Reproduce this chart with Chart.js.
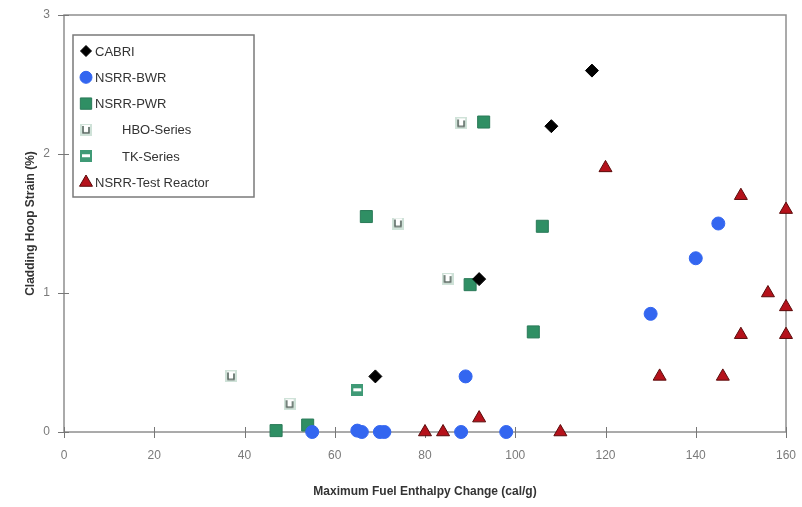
<!DOCTYPE html>
<html>
<head>
<meta charset="utf-8">
<script src="https://cdn.jsdelivr.net/npm/chart.js@4"></script>
<style>
  html, body { margin: 0; padding: 0; background: #fff; }
  #wrap { width: 802px; height: 507px; }
</style>
</head>
<body>
<div id="wrap"><canvas id="chart" width="802" height="507"></canvas></div>
<script>
// data: [enthalpy cal/g, hoop strain %]
const cabri = [[69, 0.4], [92, 1.1], [108, 2.2], [117, 2.6]];
const nsrrBwr = [[55, 0], [65, 0.01], [66, 0], [70, 0], [71, 0], [88, 0], [98, 0],
                 [89, 0.4], [130, 0.85], [140, 1.25], [145, 1.5]];
const nsrrPwr = [[47, 0.01], [54, 0.05], [67, 1.55], [90, 1.06], [93, 2.23], [106, 1.48], [104, 0.72]];
const hboSeries = [[37, 0.4], [50, 0.2], [74, 1.5], [85, 1.1], [88, 2.22]];
const tkSeries = [[65, 0.3]];
const testReactor = [[80, 0], [84, 0], [92, 0.1], [110, 0], [120, 1.9], [132, 0.4], [146, 0.4],
                     [150, 1.7], [150, 0.7], [156, 1.0], [160, 1.6], [160, 0.9], [160, 0.7]];

const xTicks = [0, 20, 40, 60, 80, 100, 120, 140, 160];
const yTicks = [0, 1, 2, 3];

const toXY = arr => arr.map(p => ({ x: p[0], y: p[1] }));

// little canvases for the two odd marker styles
function hboMarker() {
  const c = document.createElement('canvas');
  c.width = 12; c.height = 12;
  const g = c.getContext('2d');
  g.fillStyle = '#cfe2d8';
  g.fillRect(0, 0, 12, 12);
  g.fillStyle = '#ffffff';
  g.fillRect(2, 1, 8, 9);
  g.strokeStyle = '#55665e';
  g.lineWidth = 1.6;
  g.beginPath();
  g.moveTo(3, 2); g.lineTo(3, 9); g.lineTo(9, 9); g.lineTo(9, 3);
  g.stroke();
  return c;
}
function tkMarker() {
  const c = document.createElement('canvas');
  c.width = 12; c.height = 12;
  const g = c.getContext('2d');
  g.fillStyle = '#3f9a76';
  g.fillRect(0, 0, 12, 12);
  g.fillStyle = '#ffffff';
  g.fillRect(2, 4, 8, 3);
  return c;
}
const hboImg = hboMarker();
const tkImg = tkMarker();

// frame, cross ticks and the legend box
const framePlugin = {
  id: 'frame',
  beforeDatasetsDraw(chart) {
    const { ctx, chartArea: a, scales } = chart;
    ctx.save();
    ctx.strokeStyle = '#8f8f8f';
    ctx.lineWidth = 1.5;
    ctx.strokeRect(a.left, a.top, a.right - a.left, a.bottom - a.top);
    ctx.lineWidth = 1;
    ctx.strokeStyle = '#777';
    ctx.beginPath();
    yTicks.forEach(v => {
      const y = Math.round(scales.y.getPixelForValue(v)) + 0.5;
      ctx.moveTo(a.left - 6, y); ctx.lineTo(a.left + 5, y);
    });
    xTicks.forEach(v => {
      const x = Math.round(scales.x.getPixelForValue(v)) + 0.5;
      ctx.moveTo(x, a.bottom - 5); ctx.lineTo(x, a.bottom + 6);
    });
    ctx.stroke();
    ctx.restore();
  },
  afterDraw(chart) {
    const { ctx } = chart;
    const bx = 73, by = 35, bw = 181, bh = 162;
    ctx.save();
    ctx.fillStyle = '#fff';
    ctx.fillRect(bx, by, bw, bh);
    ctx.strokeStyle = '#7a7a7a';
    ctx.lineWidth = 1.5;
    ctx.strokeRect(bx, by, bw, bh);
    ctx.font = '13px "Liberation Sans", Arial, sans-serif';
    ctx.textBaseline = 'middle';
    chart.data.datasets.forEach((ds, i) => {
      const y = 51 + i * 26.3;
      const mx = 86;
      const style = ds.pointStyle;
      if (style instanceof HTMLCanvasElement) {
        ctx.drawImage(style, mx - 6, y - 6);
      } else {
        ctx.fillStyle = ds.backgroundColor;
        ctx.strokeStyle = ds.borderColor;
        ctx.lineWidth = ds.borderWidth;
        Chart.helpers.drawPoint(ctx, {
          pointStyle: style,
          radius: ds.legendRadius,
          borderWidth: ds.borderWidth
        }, mx, y);
      }
      ctx.fillStyle = '#333';
      ctx.fillText(ds.label, ds.indent ? 122 : 95, y + 1);
    });
    ctx.restore();
  }
};

new Chart(document.getElementById('chart'), {
  type: 'scatter',
  data: {
    datasets: [
      { label: 'CABRI', data: toXY(cabri), pointStyle: 'rectRot', pointRadius: 6.5, legendRadius: 5.5,
        backgroundColor: '#000', borderColor: '#000', borderWidth: 1, clip: false },
      { label: 'NSRR-BWR', data: toXY(nsrrBwr), pointStyle: 'circle', pointRadius: 6.5, legendRadius: 6,
        backgroundColor: '#3366f0', borderColor: '#3366f0', borderWidth: 1, clip: false },
      { label: 'NSRR-PWR', data: toXY(nsrrPwr), pointStyle: 'rect', pointRadius: 8.5, legendRadius: 8,
        backgroundColor: '#2f8f64', borderColor: '#2a7a58', borderWidth: 1, clip: false },
      { label: 'HBO-Series', data: toXY(hboSeries), pointStyle: hboImg, indent: true,
        backgroundColor: '#cfe2d8', borderColor: '#55665e', borderWidth: 1, clip: false },
      { label: 'TK-Series', data: toXY(tkSeries), pointStyle: tkImg, indent: true,
        backgroundColor: '#3f9a76', borderColor: '#3f9a76', borderWidth: 1, clip: false },
      { label: 'NSRR-Test Reactor', data: toXY(testReactor), pointStyle: 'triangle', pointRadius: 7.5, legendRadius: 7.5,
        backgroundColor: '#b5121b', borderColor: '#5a0a0a', borderWidth: 1, clip: false }
    ]
  },
  options: {
    responsive: false,
    animation: false,
    layout: { padding: { left: 0, right: 16, top: 15, bottom: 0 } },
    plugins: {
      legend: { display: false },
      tooltip: { enabled: false }
    },
    scales: {
      x: {
        type: 'linear', min: 0, max: 160,
        afterBuildTicks: s => { s.ticks = xTicks.map(v => ({ value: v })); },
        afterFit: s => { s.height = 75; s.paddingLeft = 0; s.paddingRight = 0; },
        grid: { display: false, drawTicks: false },
        border: { display: false },
        ticks: { padding: 16, maxRotation: 0, color: '#7a7a7a', font: { size: 12, family: '"Liberation Sans", Arial, sans-serif' } },
        title: {
          display: true, text: 'Maximum Fuel Enthalpy Change (cal/g)', color: '#333',
          font: { size: 12, weight: 'bold', family: '"Liberation Sans", Arial, sans-serif' },
          padding: { top: 4, bottom: 8 }
        }
      },
      y: {
        type: 'linear', min: 0, max: 3,
        afterBuildTicks: s => { s.ticks = yTicks.map(v => ({ value: v })); },
        afterFit: s => { s.width = 64; s.paddingTop = 0; s.paddingBottom = 0; },
        grid: { display: false, drawTicks: false },
        border: { display: false },
        ticks: { padding: 14, color: '#7a7a7a', font: { size: 12, family: '"Liberation Sans", Arial, sans-serif' } },
        title: {
          display: true, text: 'Cladding Hoop Strain (%)', color: '#333',
          font: { size: 12, weight: 'bold', family: '"Liberation Sans", Arial, sans-serif' },
          padding: { top: 23, bottom: 0 }
        }
      }
    }
  },
  plugins: [framePlugin]
});
</script>
</body>
</html>
